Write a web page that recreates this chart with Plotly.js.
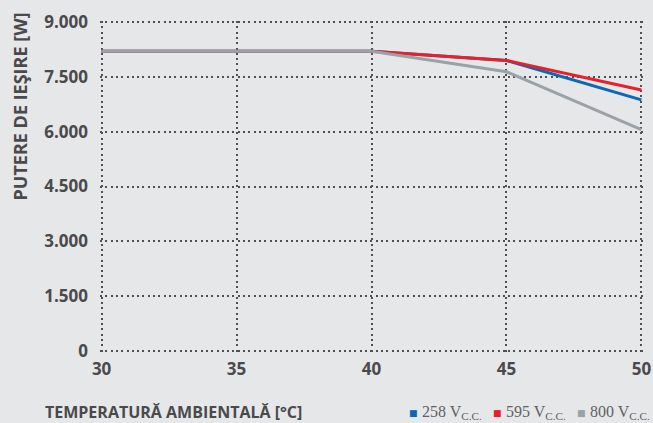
<!DOCTYPE html>
<html><head><meta charset="utf-8">
<script src="https://cdn.plot.ly/plotly-3.0.1.min.js"></script>
<style>html,body{margin:0;padding:0;background:#e6e7e9;}</style>
</head><body><div id="c" style="width:653px;height:423px;"></div>
<script>
const temps = [30, 35, 40, 45, 50];
const v258 = [8200, 8200, 8200, 7950, 6870];
const v595 = [8200, 8200, 8200, 7950, 7140];
const v800 = [8200, 8200, 8200, 7640, 6060];
const seriesNames = ['258 V<sub>C.C.</sub>', '595 V<sub>C.C.</sub>', '800 V<sub>C.C.</sub>'];
const colors = ['#0b68b4', '#e8202a', '#9aa2a7'];
const yTicks = [0, 1500, 3000, 4500, 6000, 7500, 9000];
const xTicks = [30, 35, 40, 45, 50];
const xTitle = 'TEMPERATURĂ AMBIENTALĂ [°C]';
const yTitle = 'PUTERE DE IEŞIRE [W]';

const F = '"Open Sans", "Roboto", sans-serif';
const TXT = '#4a4a4c';
const L = 100, R = 10, T = 21, B = 71, W = 653 - L - R, H = 423 - T - B;
const px = x => (x - L) / W;
const py = y => (423 - B - y) / H;

const vals = [v258, v595, v800];
const data = [0, 1, 2].map(i => ({x: temps, y: vals[i], mode: 'lines', line: {color: colors[i], width: 3},
  name: seriesNames[i], showlegend: false, hoverinfo: 'skip'}));

const grid = {showgrid: true, gridcolor: '#505052', griddash: '2px,3.3px', gridwidth: 2};
const legX = [407, 491, 575];
const ann = [
  {text: xTitle, xref: 'paper', yref: 'paper', x: px(43), xanchor: 'left', y: py(412), yanchor: 'middle',
   showarrow: false, font: {family: F, size: 16, color: TXT, weight: 700}},
  {text: yTitle, xref: 'paper', yref: 'paper', x: px(19), xanchor: 'center', y: py(106.5), yanchor: 'middle',
   textangle: -90, showarrow: false, font: {family: F, size: 18, color: TXT, weight: 700}}
];
[0, 1, 2].forEach(i => {
  ann.push({text: '■', xref: 'paper', yref: 'paper', x: px(legX[i]), xanchor: 'left', y: py(413), yanchor: 'middle',
    showarrow: false, font: {family: '"DejaVu Sans", sans-serif', size: 9, color: colors[i], weight: 400}});
  ann.push({text: seriesNames[i], xref: 'paper', yref: 'paper', x: px(legX[i] + 13), xanchor: 'left', y: py(412), yanchor: 'middle',
    showarrow: false, font: {family: '"Liberation Serif", serif', size: 16, color: '#606163', weight: 400}});
});

Plotly.newPlot('c', data, {
  width: 653, height: 423,
  paper_bgcolor: '#e6e7e9', plot_bgcolor: '#e6e7e9',
  separators: ',.',
  margin: {l: L, r: R, t: T, b: B},
  font: {family: F, color: TXT, size: 17},
  xaxis: Object.assign({range: [29.94, 50.06], tickvals: xTicks, ticks: '', zeroline: false, showline: false,
    tickfont: {family: F, size: 17, color: TXT, weight: 700}, ticklabelstandoff: 5}, grid),
  yaxis: Object.assign({range: [-30, 9030], tickvals: yTicks, tickformat: ',d', ticks: '', zeroline: false, showline: false,
    tickfont: {family: F, size: 17, color: TXT, weight: 700}, ticklabelstandoff: 11}, grid),
  showlegend: false,
  annotations: ann
}, {displayModeBar: false, staticPlot: true});
</script></body></html>
